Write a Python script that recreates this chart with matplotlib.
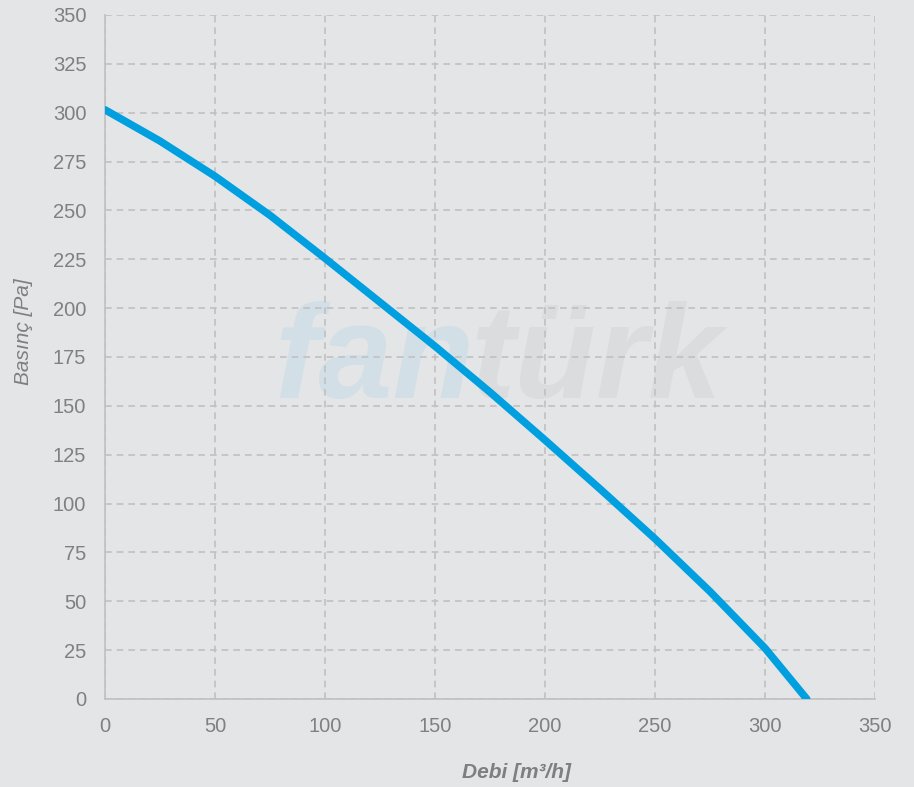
import matplotlib.pyplot as plt

# curve
flow = [0, 25, 50, 75, 100, 125, 150, 175, 200, 225, 250, 275, 300, 319]
pressure = [301.5, 285.5, 267.5, 247.5, 225.5, 203, 180.5, 157, 132.5, 107.5, 82, 55, 26, 0]

x_ticks = list(range(0, 351, 50))
y_ticks = list(range(0, 351, 25))

bg = '#e4e5e7'
plt.rcParams['font.family'] = ['Liberation Sans', 'DejaVu Sans']

fig = plt.figure(figsize=(9.14, 7.87), dpi=100, facecolor=bg)
ax = fig.add_axes([105 / 914, 88 / 787, 770 / 914, 684 / 787])
ax.set_facecolor(bg)

# watermark, two colours
wm = dict(fontsize=96, fontweight='bold', style='italic', va='baseline',
          family=['Liberation Sans Narrow', 'Liberation Sans'], zorder=0)
ax.text(77, 154, 'fan', color='#d3dfe6', **wm)
ax.text(166, 154, 'türk', color='#dbdcde', **wm)

ax.plot(flow, pressure, color='#009fdf', linewidth=5.4,
        solid_capstyle='round', solid_joinstyle='round', zorder=3)

ax.set_xlim(0, 350)
ax.set_ylim(0, 350)
ax.set_xticks(x_ticks)
ax.set_yticks(y_ticks)
ax.grid(True, color='#c0c0c0', linestyle=(0, (4, 3)), linewidth=1.2, zorder=1)
ax.set_axisbelow(True)

for side in ['top', 'right']:
    ax.spines[side].set_visible(False)
for side in ['left', 'bottom']:
    ax.spines[side].set_color('#c0c0c0')
    ax.spines[side].set_linewidth(1.2)

ax.tick_params(length=0, labelsize=14.5, colors='#808080')
ax.tick_params(axis='x', pad=13)
ax.tick_params(axis='y', pad=13.5)

ax.set_xlabel('Debi [m³/h]', fontsize=15, fontweight='bold', style='italic',
              color='#7f7f7f')
ax.set_ylabel('Basınç [Pa]', fontsize=15, style='italic', color='#7f7f7f')
ax.xaxis.set_label_coords(0.535, -0.093)
ax.yaxis.set_label_coords(-0.094, 0.5365)

fig.savefig('out.png', dpi=100, facecolor=bg)
